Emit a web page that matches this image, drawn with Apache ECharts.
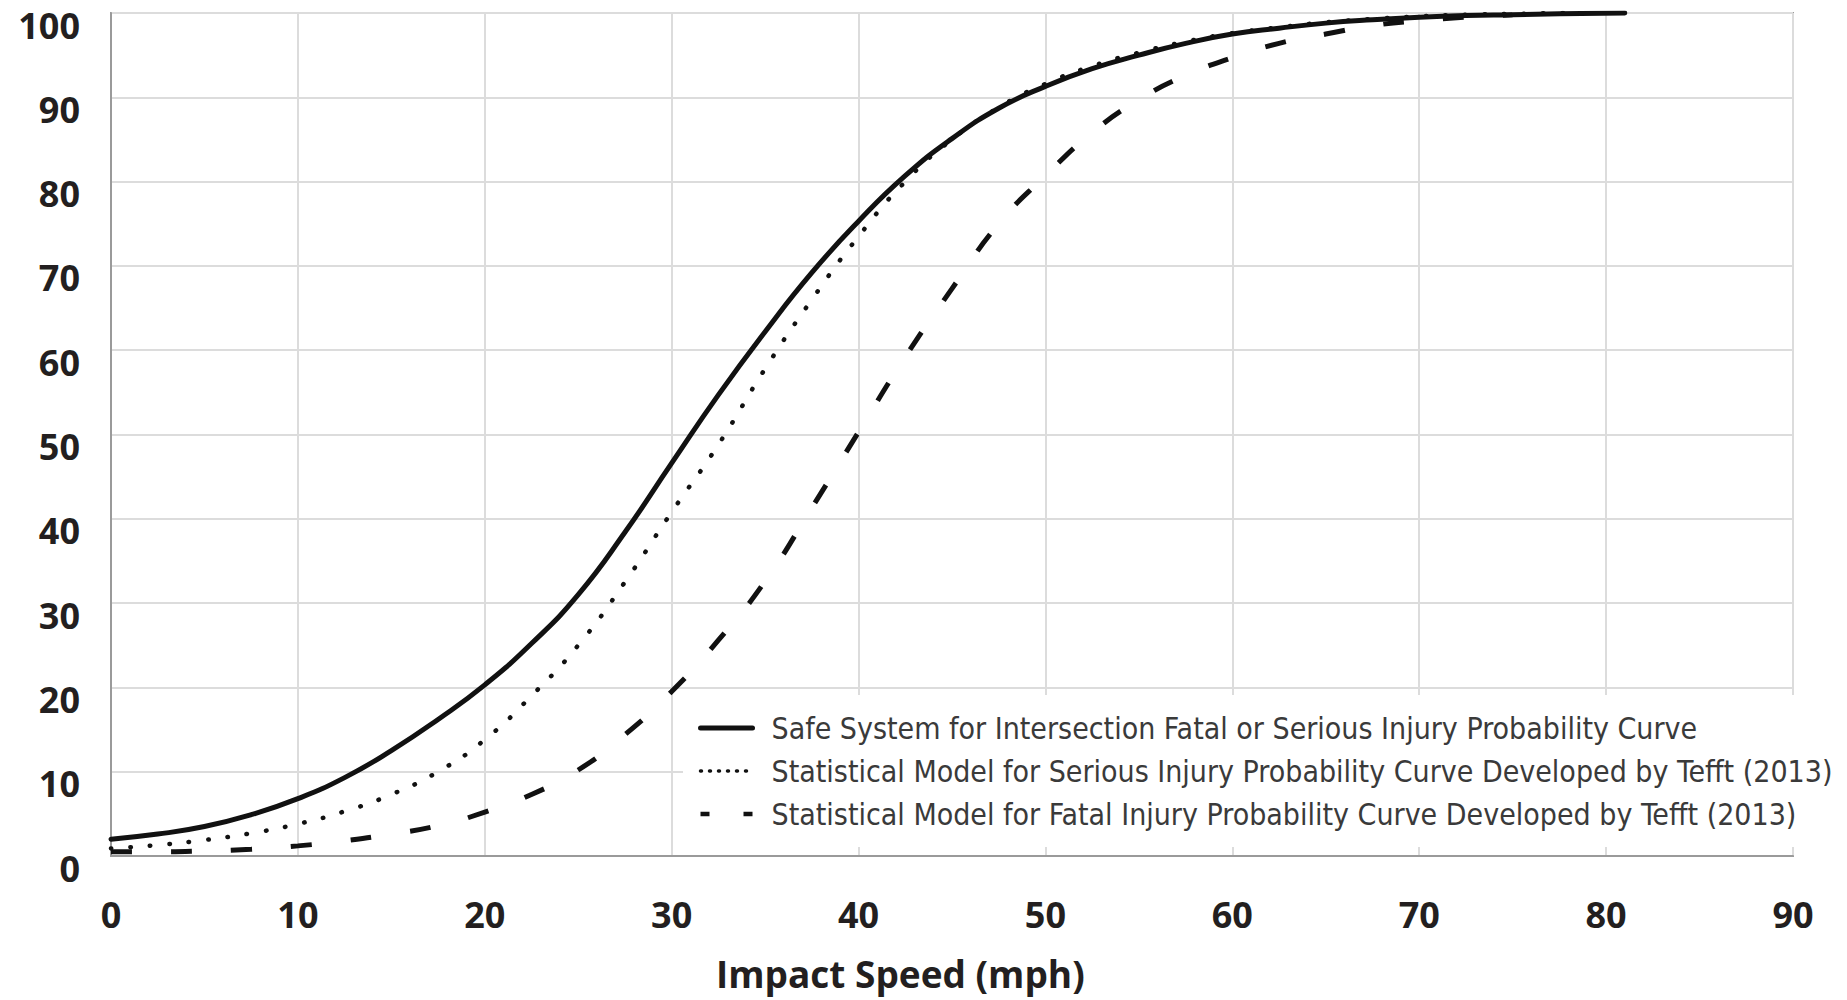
<!DOCTYPE html>
<html>
<head>
<meta charset="utf-8">
<script src="https://cdn.jsdelivr.net/npm/echarts@6/dist/echarts.min.js"></script>
<style>
html,body{margin:0;padding:0;background:#fff;}
#chart{width:1847px;height:1000px;}
</style>
</head>
<body>
<div id="chart"></div>
<script>
// ---- data ----
const seriesNames = [
  'Safe System for Intersection Fatal or Serious Injury Probability Curve',
  'Statistical Model for Serious Injury Probability Curve Developed by Tefft (2013)',
  'Statistical Model for Fatal Injury Probability Curve Developed by Tefft (2013)'
];
const xTicks = [0, 10, 20, 30, 40, 50, 60, 70, 80, 90];
const yTicks = [0, 10, 20, 30, 40, 50, 60, 70, 80, 90, 100];
const xAxisTitle = 'Impact Speed (mph)';

const speedsSolid = [0, 2.5, 5, 7.5, 10, 12.5, 15, 17.5, 20, 22.5, 25, 27.5, 30, 32.5, 35, 37.5, 40, 42.5, 45, 47.5, 50, 52.5, 55, 57.5, 60, 62.5, 65, 67.5, 70, 72.5, 75, 77.5, 81];
const solidValues = [2.0, 2.6, 3.5, 4.9, 6.8, 9.3, 12.5, 16.2, 20.3, 25.2, 31.0, 38.4, 46.6, 54.7, 62.2, 69.2, 75.3, 80.7, 85.1, 88.7, 91.3, 93.4, 95.0, 96.4, 97.5, 98.2, 98.8, 99.2, 99.5, 99.7, 99.8, 99.9, 100.0];

const speedsDotted = [0, 2.5, 5, 7.5, 10, 12.5, 15, 17.5, 20, 22.5, 25, 27.5, 30, 32.5, 35, 37.5, 40, 42.5, 45, 47.5, 50, 52.5, 55, 57.5, 60, 62.5, 65, 67.5, 70, 72.5, 75, 78];
const dottedValues = [0.9, 1.3, 1.9, 2.7, 3.8, 5.3, 7.3, 10.0, 13.8, 19.0, 25.0, 32.5, 40.8, 48.8, 57.8, 66.0, 73.5, 80.0, 85.0, 88.8, 91.6, 93.7, 95.3, 96.6, 97.6, 98.3, 98.9, 99.3, 99.6, 99.8, 99.9, 100.0];

const speedsDashed = [0, 2.5, 5, 7.5, 10, 12.5, 15, 17.5, 20, 22.5, 25, 27.5, 30, 32.5, 35, 37.5, 40, 42.5, 45, 47.5, 50, 52.5, 55, 57.5, 60, 62.5, 65, 67.5, 70, 72.5, 75];
const dashedValues = [0.5, 0.5, 0.6, 0.8, 1.2, 1.8, 2.6, 3.6, 5.2, 7.3, 10.2, 14.4, 19.5, 25.6, 32.6, 41.3, 50.3, 59.2, 67.3, 75.0, 80.7, 85.8, 89.7, 92.6, 94.7, 96.4, 97.5, 98.5, 99.1, 99.5, 99.8];

function pairs(xs, ys){ return xs.map((x, i) => [x, ys[i]]); }

const chart = echarts.init(document.getElementById('chart'), null, {renderer: 'svg'});
const tickFont = {fontFamily: "'Open Sans', 'Noto Sans', sans-serif", fontWeight: 'bold', fontSize: 36, color: '#231f20'};
const legendFont = "'Liberation Sans Narrow', 'DejaVu Sans Condensed', 'Open Sans', sans-serif";
const hiddenSymbol = {opacity: 0, borderWidth: 0};

chart.setOption({
  animation: false,
  backgroundColor: '#fff',
  grid: {left: 111, right: 54, top: 13, bottom: 144, show: true, borderColor: '#9a9a9a', borderWidth: 2, containLabel: false},
  xAxis: {
    type: 'value', min: 0, max: 90, interval: 10,
    axisLine: {show: true, lineStyle: {color: '#9a9a9a', width: 2}},
    axisTick: {show: false},
    splitLine: {show: true, lineStyle: {color: '#dcdcdc', width: 2}},
    axisLabel: Object.assign({margin: 40, formatter: v => xTicks.includes(v) ? String(v) : ''}, tickFont)
  },
  yAxis: {
    type: 'value', min: 0, max: 100, interval: 10,
    axisLine: {show: true, lineStyle: {color: '#9a9a9a', width: 2}},
    axisTick: {show: false},
    splitLine: {show: true, lineStyle: {color: '#dcdcdc', width: 2}},
    axisLabel: Object.assign({margin: 31, lineHeight: 24, verticalAlign: 'top', formatter: v => yTicks.includes(v) ? String(v) : ''}, tickFont)
  },
  title: {
    text: xAxisTitle, left: 716, top: 955,
    textStyle: {fontFamily: "'Open Sans', 'Noto Sans', sans-serif", fontWeight: 'bold', fontSize: 37, color: '#231f20'},
    padding: 0
  },
  legend: {
    orient: 'vertical', left: 683, top: 695,
    padding: [18, 12, 18, 15],
    backgroundColor: '#fff',
    itemWidth: 52, itemHeight: 14, itemGap: 13,
    textStyle: {fontFamily: legendFont, fontSize: 30, lineHeight: 30, color: '#3a3a3a', padding: [0, 0, 0, 14]},
    data: [
      {name: seriesNames[0], itemStyle: hiddenSymbol, lineStyle: {type: 'solid', width: 5}},
      {name: seriesNames[1], itemStyle: hiddenSymbol, lineStyle: {type: [1, 8], width: 3.5, cap: 'round'}},
      {name: seriesNames[2], itemStyle: hiddenSymbol, lineStyle: {type: [9, 34], width: 4.5}}
    ]
  },
  series: [
    {
      name: seriesNames[0], type: 'line', smooth: 0.5, symbol: 'none',
      data: pairs(speedsSolid, solidValues),
      lineStyle: {color: '#111', width: 5, type: 'solid', cap: 'round'},
      itemStyle: {color: '#111'}, z: 3
    },
    {
      name: seriesNames[1], type: 'line', smooth: 0.5, symbol: 'none',
      data: pairs(speedsDotted, dottedValues),
      lineStyle: {color: '#111', width: 4.5, type: [0.5, 19], cap: 'round'},
      itemStyle: {color: '#111'}, z: 4
    },
    {
      name: seriesNames[2], type: 'line', smooth: 0.5, symbol: 'none',
      data: pairs(speedsDashed, dashedValues),
      lineStyle: {color: '#111', width: 5, type: [21, 39]},
      itemStyle: {color: '#111'}, z: 2
    }
  ]
});
</script>
</body>
</html>
